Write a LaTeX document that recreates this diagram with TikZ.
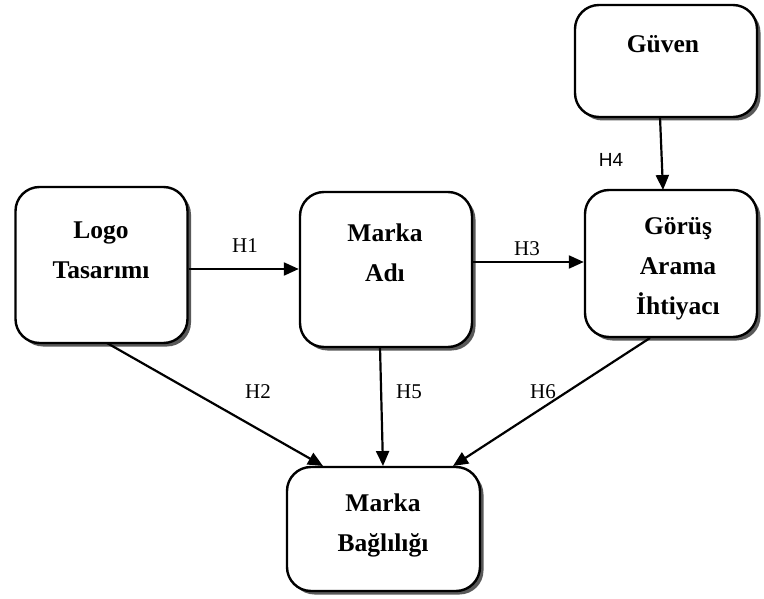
\documentclass[tikz,border=0pt]{standalone}
\usepackage{fontspec}
\setmainfont{Liberation Serif}
\newfontfamily\hsans{Liberation Sans}
\usetikzlibrary{arrows.meta,shadows,calc}
\begin{document}
\begin{tikzpicture}[x=1pt,y=-1pt,
  box/.style={draw=black,line width=2.4pt,rounded corners=24pt,fill=white,
    drop shadow={shadow xshift=3.5pt,shadow yshift=-3.5pt,fill=black!65,opacity=1},
    inner sep=0pt},
  boxtext/.style={font=\fontsize{25.5}{40}\selectfont\bfseries,align=center,inner sep=0pt},
  hlab/.style={font=\fontsize{21}{22}\selectfont,inner sep=0pt},
  hsanslab/.style={font=\hsans\fontsize{19}{22}\selectfont,inner sep=0pt},
  conn/.style={line width=2.2pt,-{Triangle[length=15pt,width=13pt]}}]
\useasboundingbox (0,0) rectangle (764,599);
% boxes
\node[box,minimum width=172pt,minimum height=156pt] (logo) at (101.5,265) {};
\node[box,minimum width=172pt,minimum height=155pt] (ad) at (386,269.5) {};
\node[box,minimum width=172pt,minimum height=147pt] (gor) at (671,263.5) {};
\node[box,minimum width=182pt,minimum height=112pt] (guv) at (666,61) {};
\node[box,minimum width=193pt,minimum height=124pt] (bag) at (383.5,529) {};
% texts
\node[boxtext] (tlogo) at (101,250) {Logo\\Tasarımı};
\node[boxtext] (tad) at (385,253) {Marka\\Adı};
\node[boxtext] (tgor) at (678,269) {Görüş\\Arama\\İhtiyacı};
\node[boxtext] (tguv) at (663,44) {Güven};
\node[boxtext] (tbag) at (383,525) {Marka\\Bağlılığı};
% connectors
\coordinate (h1s) at ($(logo.east)+(0,4)$);
\coordinate (h1e) at (ad.west |- h1s);
\draw[conn] (h1s) -- (h1e);
\coordinate (h3s) at ($(ad.east)+(0,-7.5)$);
\coordinate (h3e) at (gor.west |- h3s);
\draw[conn] (h3s) -- (h3e);
\coordinate (h4s) at (660,117);
\coordinate (h4e) at (663,190);
\draw[conn] (h4s) -- (h4e);
\coordinate (h2s) at (107,343);
\coordinate (h2e) at (323,466);
\draw[conn] (h2s) -- (h2e);
\coordinate (h5s) at (380,347);
\coordinate (h5e) at (383,466);
\draw[conn] (h5s) -- (h5e);
\coordinate (h6s) at (650,338);
\coordinate (h6e) at (453,466);
\draw[conn] (h6s) -- (h6e);
% labels
\node[hlab] (l1) at (245,246) {H1};
\node[hlab] (l3) at (527,249) {H3};
\node[hsanslab] (l4) at (611,160) {H4};
\node[hlab] (l2) at (258,392) {H2};
\node[hlab] (l5) at (409,392) {H5};
\node[hlab] (l6) at (543,392) {H6};
\end{tikzpicture}
\end{document}
